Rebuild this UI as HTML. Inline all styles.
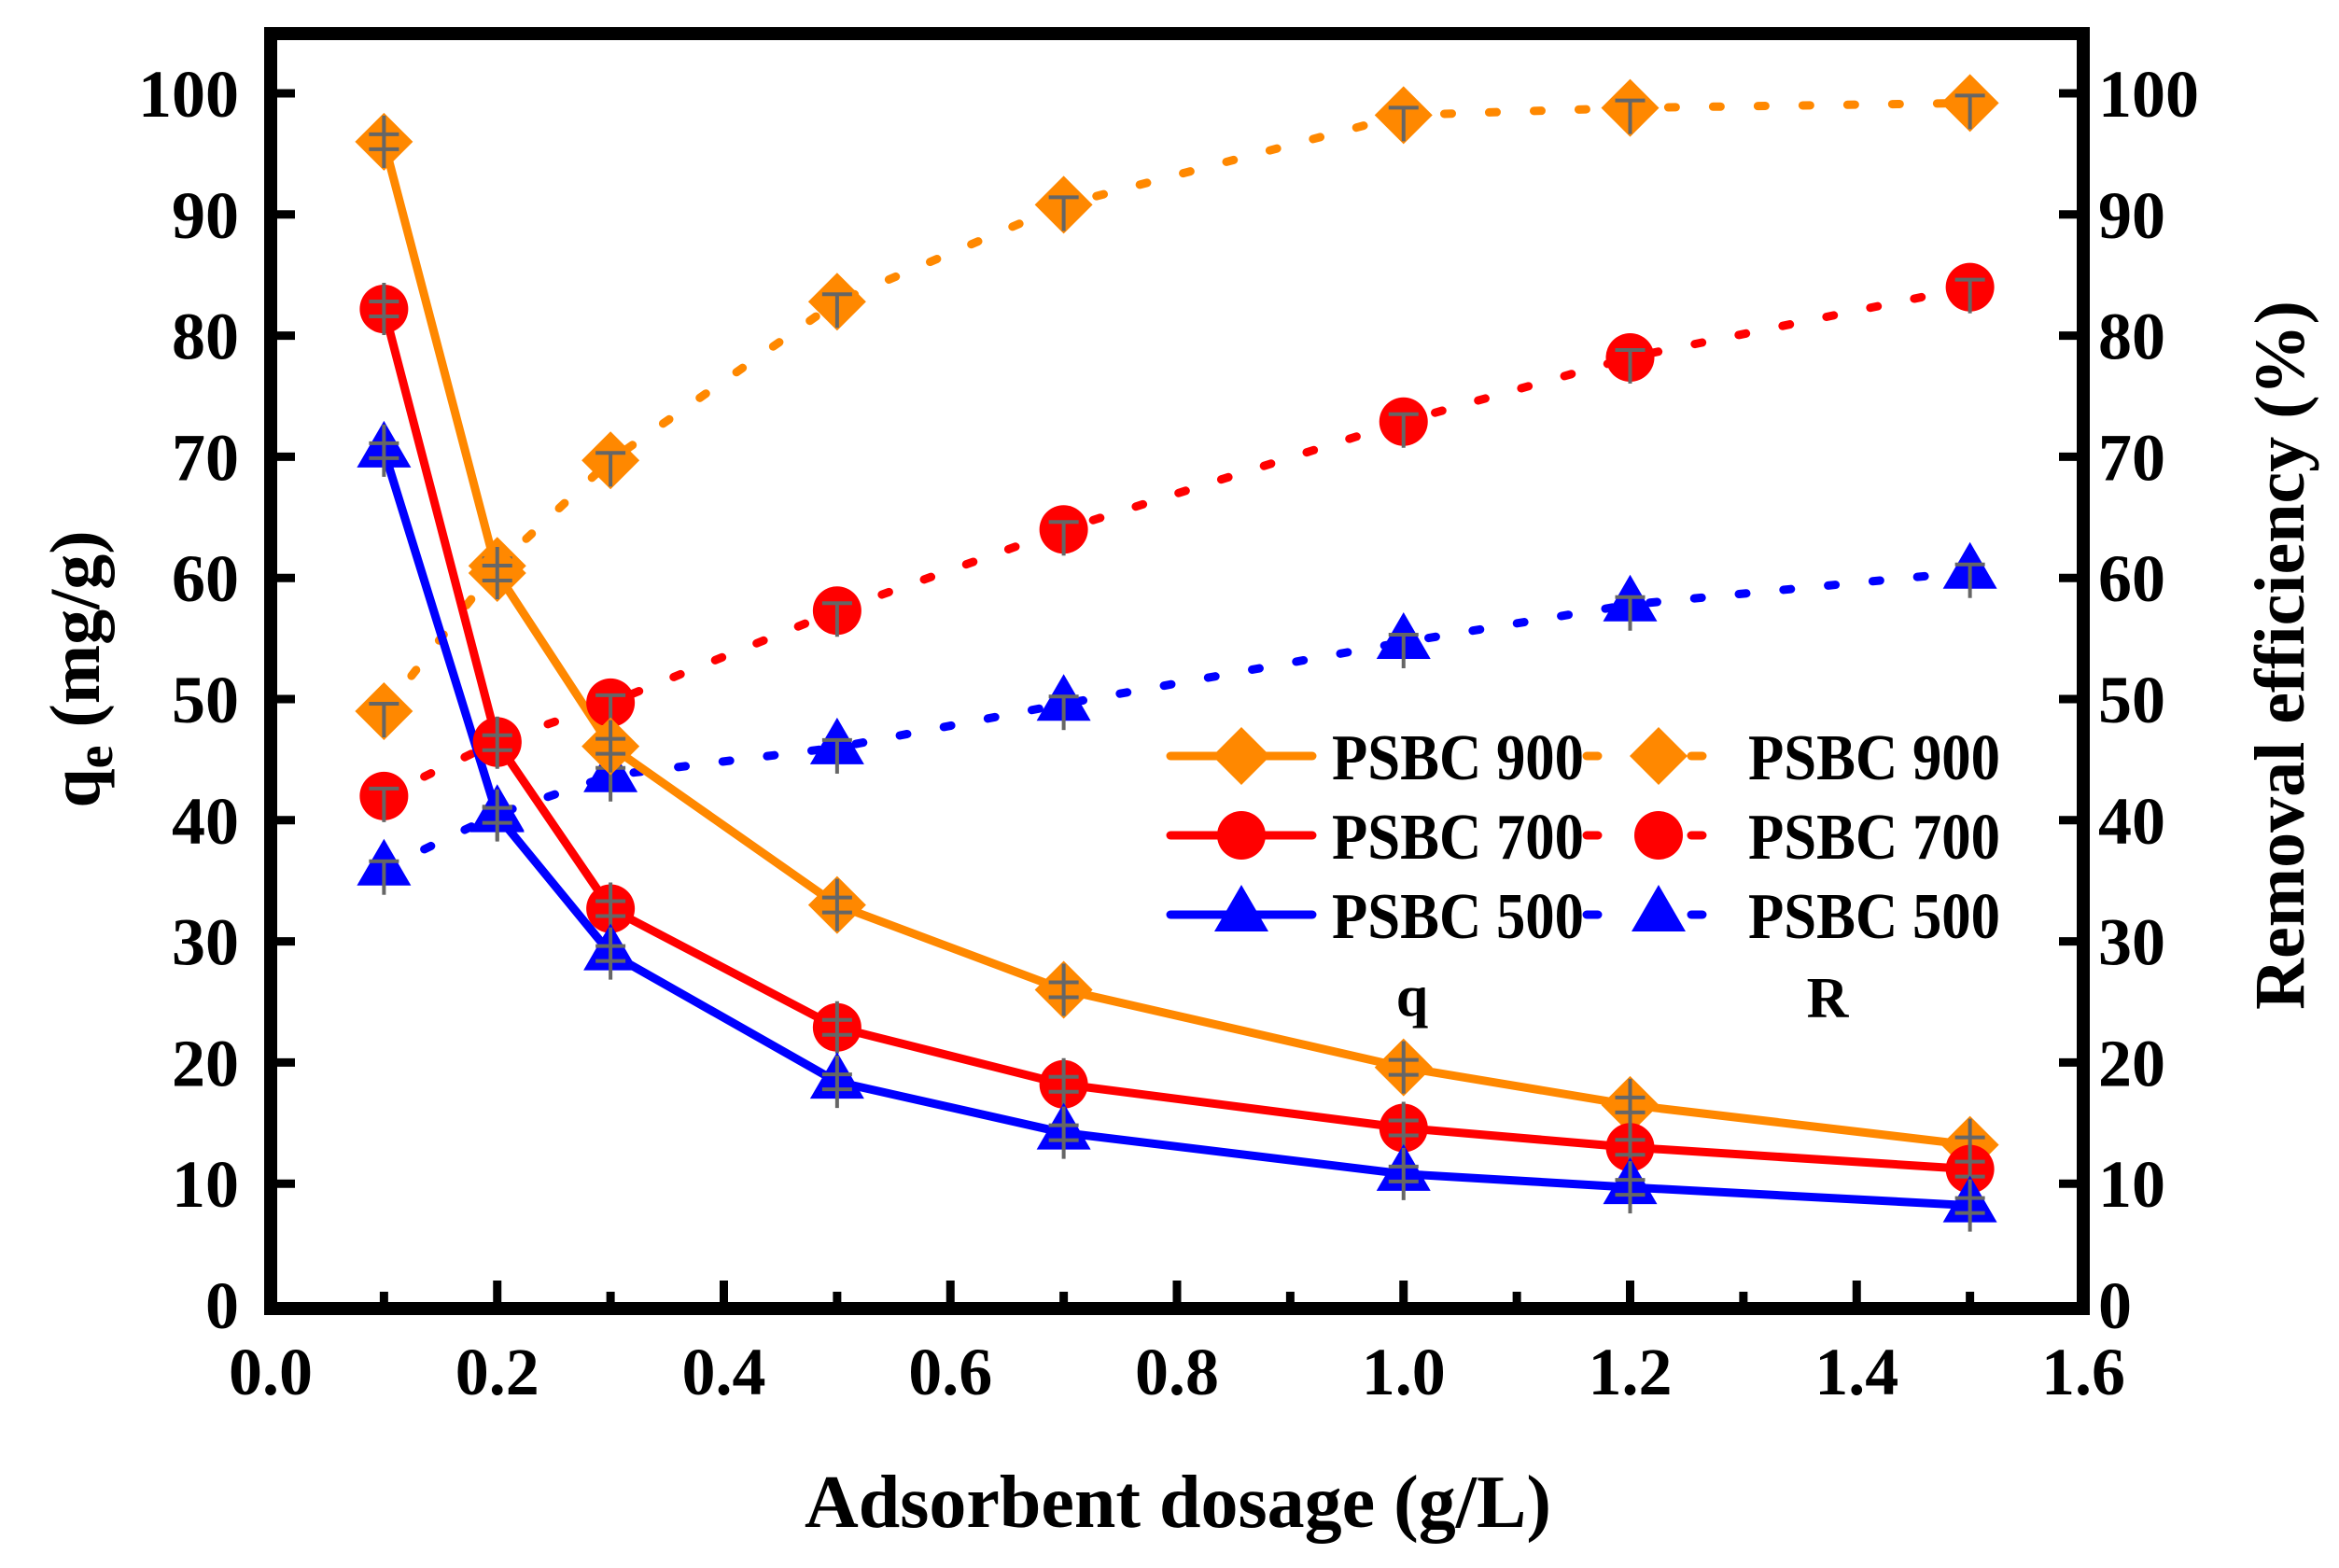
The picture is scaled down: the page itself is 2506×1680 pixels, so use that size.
<!DOCTYPE html>
<html><head><meta charset="utf-8"><style>
html,body{margin:0;padding:0;background:#fff;}
svg{display:block;font-family:"Liberation Serif",serif;font-weight:bold;}
</style></head><body>
<svg id="chart" width="2506" height="1680" viewBox="0 0 2506 1680" xmlns="http://www.w3.org/2000/svg">
<rect x="0" y="0" width="2506" height="1680" fill="#fff"/>
<g id="series"></g>
<g id="axes"></g>
<g id="legend"></g>
<text x="1262" y="1636" font-size="80" text-anchor="middle">Adsorbent dosage (g/L)</text>
<text transform="translate(106,717) rotate(-90)" font-size="76" text-anchor="middle">q<tspan font-size="56" dy="14">e</tspan><tspan dy="-14"> (mg/g)</tspan></text>
<text transform="translate(2468,702) rotate(-90)" font-size="76" text-anchor="middle">Removal efficiency (%)</text>
<text x="1513" y="1088" font-size="62" text-anchor="middle">q</text>
<text x="1958" y="1090" font-size="62" text-anchor="middle">R</text>
</svg>
<script>
const dosage = [0.1, 0.2, 0.3, 0.5, 0.7, 1.0, 1.2, 1.5];
const q900 = [96, 60.4, 46.1, 33, 26, 19.6, 16.5, 13.2];
const q700 = [82.2, 46.4, 32.7, 22.9, 18.2, 14.6, 13, 11.2];
const q500 = [70.5, 40.4, 29, 18.4, 14.2, 10.8, 9.7, 8.2];
const r900 = [49, 61, 69.7, 82.8, 90.8, 98.2, 98.8, 99.2];
const r700 = [42, 46.5, 49.7, 57.3, 64, 72.9, 78.2, 84];
const r500 = [36, 40.5, 43.7, 46, 49.6, 54.7, 57.8, 60.5];
const xTicks = ["0.0","0.2","0.4","0.6","0.8","1.0","1.2","1.4","1.6"];
const yTicks = ["0","10","20","30","40","50","60","70","80","90","100"];

const NS = "http://www.w3.org/2000/svg";
const X0 = 290, X1 = 2232, Y0 = 1398, Y1 = 100;
function xs(v){ return X0 + (v/1.6)*(X1-X0); }
function ys(v){ return Y0 - (v/100)*(Y0-Y1); }
function mk(tag, attrs, parent){ const e=document.createElementNS(NS,tag); for(const k in attrs) e.setAttribute(k,attrs[k]); parent.appendChild(e); return e; }

const S = document.getElementById('series');
const A = document.getElementById('axes');
const L = document.getElementById('legend');
const ORANGE="#FF8800", RED="#FF0000", BLUE="#0000FF", GRAY="#666666";

function marker(shape, cx, cy, color, parent){
  let e;
  if(shape==='diamond') e = mk('polygon',{points:`${cx},${cy-31} ${cx+31},${cy} ${cx},${cy+31} ${cx-31},${cy}`,fill:color},parent);
  else if(shape==='circle') e = mk('circle',{cx:cx,cy:cy,r:26,fill:color},parent);
  else e = mk('polygon',{points:`${cx},${cy-32} ${cx+29},${cy+18} ${cx-29},${cy+18}`,fill:color},parent);
  return e;
}
function errbar(cx, cy, both, parent){
  const g = mk('g',{stroke:GRAY,'stroke-width':4},parent);
  mk('line',{x1:cx,y1:both?cy-28:cy-8,x2:cx,y2:cy+28},g);
  mk('line',{x1:cx-16,y1:cy-8,x2:cx+16,y2:cy-8},g);
  if(both) mk('line',{x1:cx-16,y1:cy+8,x2:cx+16,y2:cy+8},g);
  return g;
}
const seriesDefs = [
  {name:'r900', vals:r900, color:ORANGE, shape:'diamond', dash:true},
  {name:'r700', vals:r700, color:RED, shape:'circle', dash:true},
  {name:'r500', vals:r500, color:BLUE, shape:'triangle', dash:true},
  {name:'q900', vals:q900, color:ORANGE, shape:'diamond', dash:false},
  {name:'q700', vals:q700, color:RED, shape:'circle', dash:false},
  {name:'q500', vals:q500, color:BLUE, shape:'triangle', dash:false}
];
seriesDefs.forEach(s=>{
  const pts = dosage.map((d,i)=>xs(d)+','+ys(s.vals[i])).join(' ');
  const line = mk('polyline',{points:pts,fill:'none',stroke:s.color,'stroke-width':9,'stroke-linejoin':'round','stroke-linecap':'round'},S);
  if(s.dash) line.setAttribute('stroke-dasharray','8 40');
  
  
});
seriesDefs.forEach(s=>{
  dosage.forEach((d,i)=>{
    const m = marker(s.shape, xs(d), ys(s.vals[i]), s.color, S);
    
    
    const eb = errbar(xs(d), ys(s.vals[i]), !s.dash, S);
    
    
  });
});

const frame = mk('rect',{x:X0,y:36,width:X1-X0,height:Y0+4-36,fill:'none',stroke:'#000','stroke-width':14},A);


xTicks.forEach((t,i)=>{
  const v = i*0.2, x = xs(v);
  if(i>0 && i<xTicks.length-1){
    const tk = mk('line',{x1:x,y1:Y0,x2:x,y2:Y0-26,stroke:'#000','stroke-width':9},A);
    
    
  }
  const lb = mk('text',{x:x,y:1494,'font-size':72,'text-anchor':'middle'},A);
  lb.textContent = t;
  
  
  if(i<xTicks.length-1){
    const xm = xs(v+0.1);
    const mt = mk('line',{x1:xm,y1:Y0,x2:xm,y2:Y0-14,stroke:'#000','stroke-width':9},A);
    
    
  }
});
yTicks.forEach((t,i)=>{
  const v = i*10, y = ys(v);
  if(i>0){
    const tl = mk('line',{x1:X0,y1:y,x2:X0+26,y2:y,stroke:'#000','stroke-width':9},A);
    
    
    const tr = mk('line',{x1:X1,y1:y,x2:X1-26,y2:y,stroke:'#000','stroke-width':9},A);
    
    
  }
  const ll = mk('text',{x:256,y:y+25,'font-size':72,'text-anchor':'end'},A);
  ll.textContent = t;
  
  
  const rl = mk('text',{x:2248,y:y+25,'font-size':72,'text-anchor':'start'},A);
  rl.textContent = t;
  
  
});
const legRows = [
  {label:'PSBC 900', color:ORANGE, shape:'diamond', y:810},
  {label:'PSBC 700', color:RED, shape:'circle', y:895},
  {label:'PSBC 500', color:BLUE, shape:'triangle', y:980}
];
legRows.forEach(r=>{
  const g1 = mk('g',{},L);
  
  
  mk('line',{x1:1254,y1:r.y,x2:1406,y2:r.y,stroke:r.color,'stroke-width':9,'stroke-linecap':'round'},g1);
  marker(r.shape,1330,r.y,r.color,g1);
  const t1 = mk('text',{x:1427,y:r.y+25,'font-size':70,textLength:270,lengthAdjust:'spacingAndGlyphs'},g1);
  t1.textContent = r.label;
  const g2 = mk('g',{},L);
  
  
  mk('line',{x1:1700,y1:r.y,x2:1712,y2:r.y,stroke:r.color,'stroke-width':9,'stroke-linecap':'round'},g2);
  mk('line',{x1:1812,y1:r.y,x2:1824,y2:r.y,stroke:r.color,'stroke-width':9,'stroke-linecap':'round'},g2);
  marker(r.shape,1777,r.y,r.color,g2);
  const t2 = mk('text',{x:1873,y:r.y+25,'font-size':70,textLength:270,lengthAdjust:'spacingAndGlyphs'},g2);
  t2.textContent = r.label;
});
</script>
</body></html>
